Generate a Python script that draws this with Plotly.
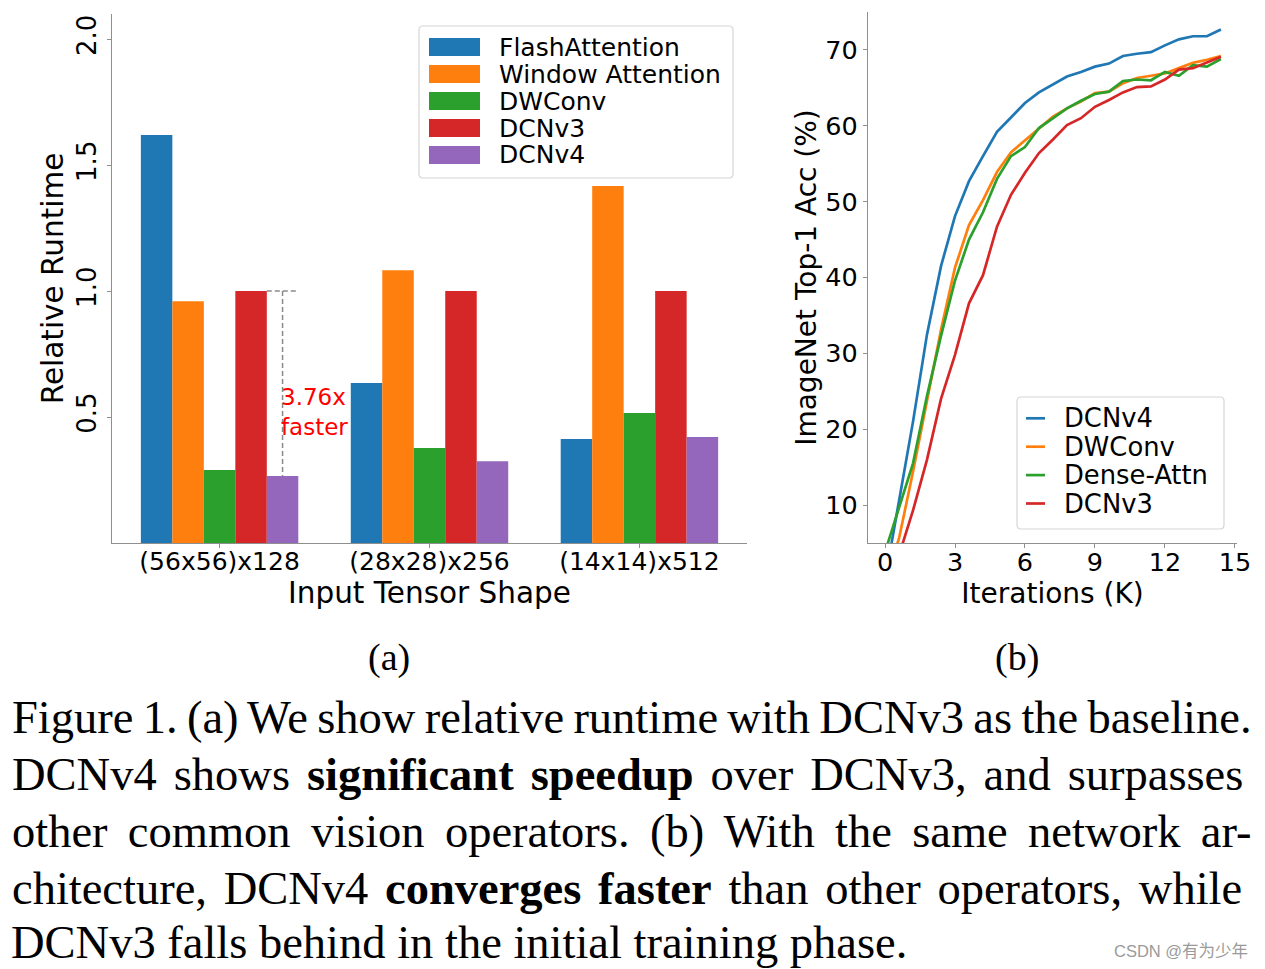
import plotly.graph_objects as go

# ---------------- data ----------------
categories = ["(56x56)x128", "(28x28)x256", "(14x14)x512"]
bar_series = ["FlashAttention", "Window Attention", "DWConv", "DCNv3", "DCNv4"]
flash_attention = [1.62, 0.635, 0.413]
window_attention = [0.96, 1.083, 1.417]
dwconv_runtime = [0.29, 0.377, 0.516]
dcnv3_runtime = [1.0, 1.0, 1.0]
dcnv4_runtime = [0.266, 0.325, 0.421]
speedup_text = "3.76x<br>faster"

iterations_k = [0.0, 0.6, 1.2, 1.8, 2.4, 3.0, 3.6, 4.2, 4.8, 5.4, 6.0, 6.6, 7.2,
                7.8, 8.4, 9.0, 9.6, 10.2, 10.8, 11.4, 12.0, 12.6, 13.2, 13.8, 14.4]
acc_dcnv4 = [0.1, 10.3, 21.0, 32.5, 41.5, 48.1, 52.7, 56.0, 59.2, 61.1, 63.0, 64.4, 65.5,
             66.5, 67.1, 67.8, 68.2, 69.2, 69.5, 69.7, 70.6, 71.4, 71.8, 71.8, 72.7]
acc_dwconv = [0.1, 5.6, 14.4, 23.9, 33.1, 41.3, 46.9, 50.2, 53.9, 56.5, 58.1, 59.7, 61.2,
              62.3, 63.2, 64.3, 64.5, 65.6, 66.3, 66.6, 66.9, 67.6, 68.3, 68.7, 69.2]
acc_dense_attn = [3.8, 9.7, 15.5, 24.4, 32.3, 39.6, 45.0, 48.6, 53.0, 56.0, 57.2, 59.7, 61.0,
                  62.3, 63.3, 64.2, 64.5, 65.9, 66.1, 66.0, 67.1, 66.6, 68.0, 67.8, 68.8]
acc_dcnv3 = [0.1, 3.4, 9.3, 16.0, 24.0, 29.8, 36.6, 40.3, 46.7, 50.9, 53.8, 56.4, 58.2,
             60.1, 61.0, 62.5, 63.4, 64.4, 65.1, 65.2, 66.1, 67.4, 67.6, 68.3, 69.1]
line_series = ["DCNv4", "DWConv", "Dense-Attn", "DCNv3"]

left_yticks = [0.5, 1.0, 1.5, 2.0]
right_yticks = [10, 20, 30, 40, 50, 60, 70]
right_xticks = [0, 3, 6, 9, 12, 15]

caption_lines = [
    "Figure 1. (a) We show relative runtime with DCNv3 as the baseline.",
    "DCNv4 shows <b>significant speedup</b> over DCNv3, and surpasses",
    "other common vision operators. (b) With the same network ar-",
    "chitecture, DCNv4 <b>converges faster</b> than other operators, while",
    "DCNv3 falls behind in the initial training phase.",
]
watermark = "CSDN @有为少年"

# ---------------- style ----------------
OFF = 8                      # page body margin of the html page
W, H = 1265 - OFF, 969 - OFF
bar_colors = ["#1f77b4", "#ff7f0e", "#2ca02c", "#d62728", "#9467bd"]
line_colors = ["#1f77b4", "#ff7f0e", "#2ca02c", "#d62728"]
spine = "#8f8f8f"
FONT = "DejaVu Sans"
SERIF = "Liberation Serif"


def px_x(p):
    return (p - OFF) / W


def px_y(p):
    return 1 - (p - OFF) / H


fig = go.Figure()

bar_values = [flash_attention, window_attention, dwconv_runtime, dcnv3_runtime, dcnv4_runtime]
for name, vals, col in zip(bar_series, bar_values, bar_colors):
    fig.add_trace(go.Bar(x=categories, y=vals, name=name, marker=dict(color=col, line=dict(width=0)),
                         xaxis="x", yaxis="y", showlegend=False))

line_values = [acc_dcnv4, acc_dwconv, acc_dense_attn, acc_dcnv3]
for name, vals, col in zip(line_series, line_values, line_colors):
    fig.add_trace(go.Scatter(x=iterations_k, y=vals, name=name, mode="lines",
                             line=dict(color=col, width=2.7), xaxis="x2", yaxis="y2",
                             showlegend=False))

axis_common = dict(showline=True, linecolor=spine, linewidth=1.3, ticks="outside", ticklen=4,
                   tickcolor=spine, tickwidth=1.3, showgrid=False, zeroline=False, mirror=False)

fig.update_layout(
    width=W, height=H, template="none",
    margin=dict(l=0, r=0, t=0, b=0),
    paper_bgcolor="white", plot_bgcolor="white",
    font=dict(family=FONT, color="black"),
    barmode="group", bargap=0.25, bargroupgap=0,
    xaxis=dict(domain=[px_x(112), px_x(747)], range=[-0.5125, 2.5125], type="category",
               tickfont=dict(size=25), ticklabelstandoff=-8,
               title=dict(text="Input Tensor Shape", font=dict(size=29.5), standoff=4),
               anchor="y", **axis_common),
    yaxis=dict(domain=[px_y(543), px_y(14)], range=[0, 2.1], tickvals=left_yticks,
               ticktext=[f"{v:.1f}" for v in left_yticks], tickangle=-90, tickfont=dict(size=26),
               title=dict(text="Relative Runtime", font=dict(size=29.5), standoff=0),
               anchor="x", **axis_common),
    xaxis2=dict(domain=[px_x(868), px_x(1237)], range=[-0.73, 15.09], tickvals=right_xticks,
                tickfont=dict(size=25.5), ticklabelstandoff=-8,
                title=dict(text="Iterations (K)", font=dict(size=28), standoff=4),
                anchor="y2", **axis_common),
    yaxis2=dict(domain=[px_y(543), px_y(12)], range=[5, 75], tickvals=right_yticks,
                tickfont=dict(size=25.5),
                title=dict(text="ImageNet Top-1 Acc (%)", font=dict(size=28), standoff=0),
                anchor="x2", **axis_common),
)

# speedup guide lines (DCNv3 -> DCNv4 for first input shape)
fig.add_shape(type="line", xref="x", yref="y", x0=0.225, x1=0.375, y0=dcnv3_runtime[0], y1=dcnv3_runtime[0],
              line=dict(color="#8a8a8a", width=1.5, dash="5px,3px"))
fig.add_shape(type="line", xref="x", yref="y", x0=0.3, x1=0.3, y0=dcnv3_runtime[0], y1=dcnv4_runtime[0],
              line=dict(color="#8a8a8a", width=1.5, dash="5px,3px"))
fig.add_annotation(xref="x", yref="y", x=0.281, y=0.52,
                   text=speedup_text, showarrow=False, xanchor="left", yanchor="middle", align="left",
                   font=dict(size=23, color="#ff0000", family=FONT))


def rounded_box(x0, y0, x1, y1, r=4):
    X0, X1 = px_x(x0), px_x(x1)
    Y0, Y1 = px_y(y0), px_y(y1)
    rx, ry = r / W, r / H
    return (f"M{X0 + rx},{Y0} L{X1 - rx},{Y0} Q{X1},{Y0} {X1},{Y0 - ry} "
            f"L{X1},{Y1 + ry} Q{X1},{Y1} {X1 - rx},{Y1} L{X0 + rx},{Y1} "
            f"Q{X0},{Y1} {X0},{Y1 + ry} L{X0},{Y0 - ry} Q{X0},{Y0} {X0 + rx},{Y0} Z")


# legend (a)
fig.add_shape(type="path", xref="paper", yref="paper", path=rounded_box(419, 26, 733, 178),
              line=dict(color="#d6d6d6", width=1.2), fillcolor="rgba(255,255,255,0.8)")
for i, (name, col) in enumerate(zip(bar_series, bar_colors)):
    cy = 47 + i * 27
    fig.add_shape(type="rect", xref="paper", yref="paper", x0=px_x(429), x1=px_x(480),
                  y0=px_y(cy + 9), y1=px_y(cy - 9), line=dict(width=0), fillcolor=col)
    fig.add_annotation(xref="paper", yref="paper", x=px_x(498), y=px_y(cy), text=name, showarrow=False,
                       xanchor="left", yanchor="middle", borderpad=0,
                       font=dict(size=25, family=FONT, color="black"))

# legend (b)
fig.add_shape(type="path", xref="paper", yref="paper", path=rounded_box(1017, 397, 1224, 529),
              line=dict(color="#d6d6d6", width=1.2), fillcolor="rgba(255,255,255,0.8)")
for i, (name, col) in enumerate(zip(line_series, line_colors)):
    cy = 418.3 + i * 28.4
    fig.add_shape(type="line", xref="paper", yref="paper", x0=px_x(1026), x1=px_x(1045),
                  y0=px_y(cy), y1=px_y(cy), line=dict(color=col, width=2.7))
    fig.add_annotation(xref="paper", yref="paper", x=px_x(1063), y=px_y(cy), text=name, showarrow=False,
                       xanchor="left", yanchor="middle", borderpad=0,
                       font=dict(size=25.8, family=FONT, color="black"))

# sub-figure labels
for lab, cx in (("(a)", 389), ("(b)", 1017)):
    fig.add_annotation(xref="paper", yref="paper", x=px_x(cx), y=px_y(657), text=lab, showarrow=False,
                       xanchor="center", yanchor="middle", font=dict(size=38, family=SERIF, color="black"))

# caption (justified lines via word spacing)
word_spacing = [-2.3, 5.4, 8.7, 5.1, 0]
n_lines = len(caption_lines)
for i, (line, ws) in enumerate(zip(caption_lines, word_spacing)):
    txt = f'<span style="word-spacing:{ws}px">{line}</span>' if ws else line
    if i < n_lines - 1:
        fig.add_annotation(xref="paper", yref="paper", x=px_x(10), y=px_y(717 + i * 57), text=txt,
                           showarrow=False, xanchor="left", yanchor="middle", align="left",
                           font=dict(size=46.5, family=SERIF, color="black"))
    else:
        fig.add_annotation(xref="paper", yref="paper", x=px_x(10), y=0, text=txt,
                           showarrow=False, xanchor="left", yanchor="bottom", align="left", borderpad=0,
                           font=dict(size=46.5, family=SERIF, color="black"))

fig.add_annotation(xref="paper", yref="paper", x=px_x(1250), y=px_y(951), text=watermark, showarrow=False,
                   xanchor="right", yanchor="middle",
                   font=dict(size=16.5, family="Liberation Sans, Noto Sans CJK SC", color="#9a9a9a"))

fig.write_html("out.html")
